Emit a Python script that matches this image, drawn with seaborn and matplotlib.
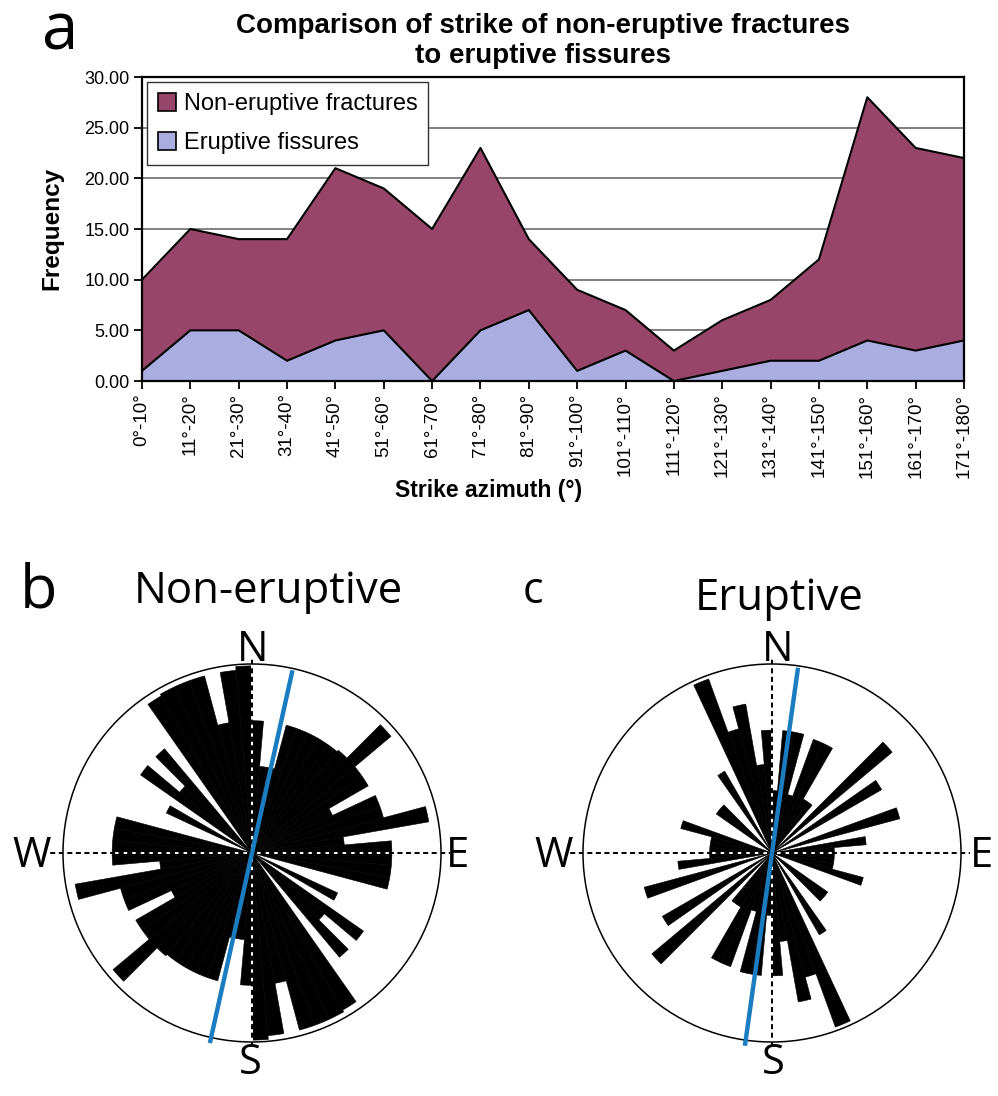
import numpy as np
import pandas as pd
import matplotlib
matplotlib.use('Agg')
import matplotlib.pyplot as plt
import seaborn as sns
from matplotlib.patches import Patch

# Panel a: frequency of strike per 10 degree class
strike_bins = ['0°-10°', '11°-20°', '21°-30°', '31°-40°', '41°-50°', '51°-60°',
               '61°-70°', '71°-80°', '81°-90°', '91°-100°', '101°-110°', '111°-120°',
               '121°-130°', '131°-140°', '141°-150°', '151°-160°', '161°-170°', '171°-180°']
non_eruptive = [10, 15, 14, 14, 21, 19, 15, 23, 14, 9, 7, 3, 6, 8, 12, 28, 23, 22]
eruptive = [1, 5, 5, 2, 4, 5, 0, 5, 7, 1, 3, 0, 1, 2, 2, 4, 3, 4]
y_ticks = [0, 5, 10, 15, 20, 25, 30]

# Panels b, c: rose petal lengths (fraction of circle) for 5 degree strike bins 0-180
rose_bin_starts = list(range(0, 180, 5))
rose_non_eruptive = [0.70, 0.46, 0.46, 0.70, 0.70, 0.70, 0.70, 0.70, 0.71, 0.96,
                     0.71, 0.71, 0.47, 0.72, 0.72, 0.95, 0.49, 0.74, 0.74, 0.74,
                     0.74, 0.00, 0.00, 0.50, 0.00, 0.72, 0.50, 0.72, 0.00, 0.96,
                     0.97, 0.97, 0.97, 0.70, 0.97, 0.99]
rose_eruptive = [0.33, 0.65, 0.65, 0.32, 0.64, 0.64, 0.33, 0.33, 0.00, 0.83,
                 0.00, 0.67, 0.00, 0.00, 0.70, 0.00, 0.50, 0.33, 0.33, 0.33,
                 0.33, 0.50, 0.00, 0.00, 0.00, 0.36, 0.36, 0.00, 0.00, 0.50,
                 0.00, 0.98, 0.68, 0.80, 0.47, 0.65]
trend_non_eruptive = 12.5
trend_eruptive = 8.0

NON_COLOR = '#974669'
ERU_COLOR = '#a9addf'
BLUE = '#1b7dc1'

sns.set_theme(style='white')
plt.rcParams['font.family'] = ['Liberation Sans', 'DejaVu Sans']
plt.rcParams['text.color'] = 'black'
plt.rcParams['axes.labelcolor'] = 'black'
plt.rcParams['xtick.color'] = 'black'
plt.rcParams['ytick.color'] = 'black'

W, H = 998, 1096
fig = plt.figure(figsize=(W / 100, H / 100), dpi=100)


def px(x, y):
    return x / W, 1 - y / H


# ---------------- panel a ----------------
ax = fig.add_axes([142 / W, 1 - 381 / H, 822 / W, 304 / H])
x = np.arange(len(strike_bins))
df = pd.DataFrame({'pos': x, 'non': non_eruptive, 'eru': eruptive})

ax.fill_between(df['pos'], df['non'], color=NON_COLOR, lw=0, zorder=2)
sns.lineplot(data=df, x='pos', y='non', ax=ax, color='black', linewidth=1.5, zorder=3)
ax.fill_between(df['pos'], df['eru'], color=ERU_COLOR, lw=0, zorder=4)
sns.lineplot(data=df, x='pos', y='eru', ax=ax, color='black', linewidth=1.5, zorder=5)

ax.set_xlim(0, len(strike_bins) - 1)
ax.set_ylim(0, 30)
ax.set_xticks(x)
ax.set_xticklabels(strike_bins, rotation=90, fontsize=13.5)
ax.set_yticks(y_ticks)
ax.set_yticklabels([f'{v:.2f}' for v in y_ticks], fontsize=13)
ax.set_xlabel('')
ax.set_ylabel('')
ax.tick_params(axis='both', direction='out', length=6, width=1.3, colors='black',
               labelcolor='black', bottom=True, left=True, pad=3)
ax.yaxis.grid(True, color='#808080', lw=1.4)
ax.xaxis.grid(False)
ax.set_axisbelow(True)
for s in ax.spines.values():
    s.set_color('black')
    s.set_linewidth(1.6)
    s.set_zorder(6)

handles = [Patch(facecolor=NON_COLOR, edgecolor='black', lw=1.2, label='Non-eruptive fractures'),
           Patch(facecolor=ERU_COLOR, edgecolor='black', lw=1.2, label='Eruptive fissures')]
leg = ax.legend(handles=handles, loc='upper left', bbox_to_anchor=(0.006, 0.982),
                fontsize=17, frameon=True, fancybox=False, framealpha=1,
                edgecolor='#333333', borderpad=0.45, labelspacing=0.7,
                handlelength=0.8, handleheight=0.8, handletextpad=0.3, borderaxespad=0)
leg.get_frame().set_linewidth(1.0)
leg.set_zorder(10)
for t in leg.get_texts():
    t.set_color('black')

fig.text(*px(543, 33), 'Comparison of strike of non-eruptive fractures',
         ha='center', va='baseline', fontsize=20, fontweight='bold')
fig.text(*px(543, 63), 'to eruptive fissures',
         ha='center', va='baseline', fontsize=20, fontweight='bold')
fig.text(*px(52, 228), 'Frequency', rotation=90, ha='center', va='center',
         fontsize=17.5, fontweight='bold')
fig.text(*px(489, 490), 'Strike azimuth (°)', ha='center', va='center',
         fontsize=16.5, fontweight='bold')

humanist = ['Open Sans', 'DejaVu Sans']
fig.text(*px(42, 50), 'a', ha='left', va='baseline', fontsize=47, family=humanist)


# ---------------- panels b, c ----------------
def rose(ax, half_values, trend):
    half = np.array(half_values)
    starts = np.array(rose_bin_starts)
    theta = np.deg2rad(np.concatenate([starts, starts + 180]) + 2.5)
    r = np.concatenate([half, half])
    ax.set_theta_zero_location('N')
    ax.set_theta_direction(-1)
    ax.bar(theta, r, width=np.deg2rad(5), color='black', edgecolor='black',
           linewidth=0.4, zorder=2)
    ax.set_ylim(0, 1)
    ax.set_xticks([])
    ax.set_yticks([])
    ax.grid(False)
    ax.set_facecolor('white')
    ax.spines['polar'].set_linewidth(1.1)
    ax.spines['polar'].set_color('black')
    # compass cross: white under black dashes
    for t, ext in [(0, 1.03), (90, 1.05), (180, 1.02), (270, 1.08)]:
        tt = np.deg2rad(t)
        ax.plot([tt, tt], [0, ext], color='white', lw=1.4, zorder=3, clip_on=False)
        ax.plot([tt, tt], [0, ext], color='black', lw=1.4, ls=(0, (2.6, 1.8)),
                zorder=3.5, clip_on=False)
    tb = np.deg2rad(trend)
    ax.plot([tb, tb], [0, 0.99], color=BLUE, lw=3.2, zorder=5,
            solid_capstyle='butt', clip_on=False)
    ax.plot([tb + np.pi, tb + np.pi], [0, 1.03], color=BLUE, lw=3.2, zorder=5,
            solid_capstyle='butt', clip_on=False)


R = 189
for cx, vals, trend in [(252, rose_non_eruptive, trend_non_eruptive),
                        (772, rose_eruptive, trend_eruptive)]:
    pax = fig.add_axes([(cx - R) / W, 1 - (853 + R) / H, 2 * R / W, 2 * R / H],
                       projection='polar')
    rose(pax, vals, trend)

compass = {
    'b': [('N', 253, 661), ('S', 250, 1074), ('W', 32, 867), ('E', 458, 867)],
    'c': [('N', 778, 661), ('S', 773, 1074), ('W', 554, 867), ('E', 982, 867)],
}
for lab_list in compass.values():
    for t, xx, yy in lab_list:
        fig.text(*px(xx, yy), t, ha='center', va='baseline', fontsize=30, family=humanist)

fig.text(*px(268, 603), 'Non-eruptive', ha='center', va='baseline', fontsize=31.5, family=humanist)
fig.text(*px(779, 610), 'Eruptive', ha='center', va='baseline', fontsize=31.5, family=humanist)
fig.text(*px(20, 607), 'b', ha='left', va='baseline', fontsize=44, family=humanist)
fig.text(*px(523, 603), 'c', ha='left', va='baseline', fontsize=31, family=humanist)

fig.savefig('out.png', dpi=100)
